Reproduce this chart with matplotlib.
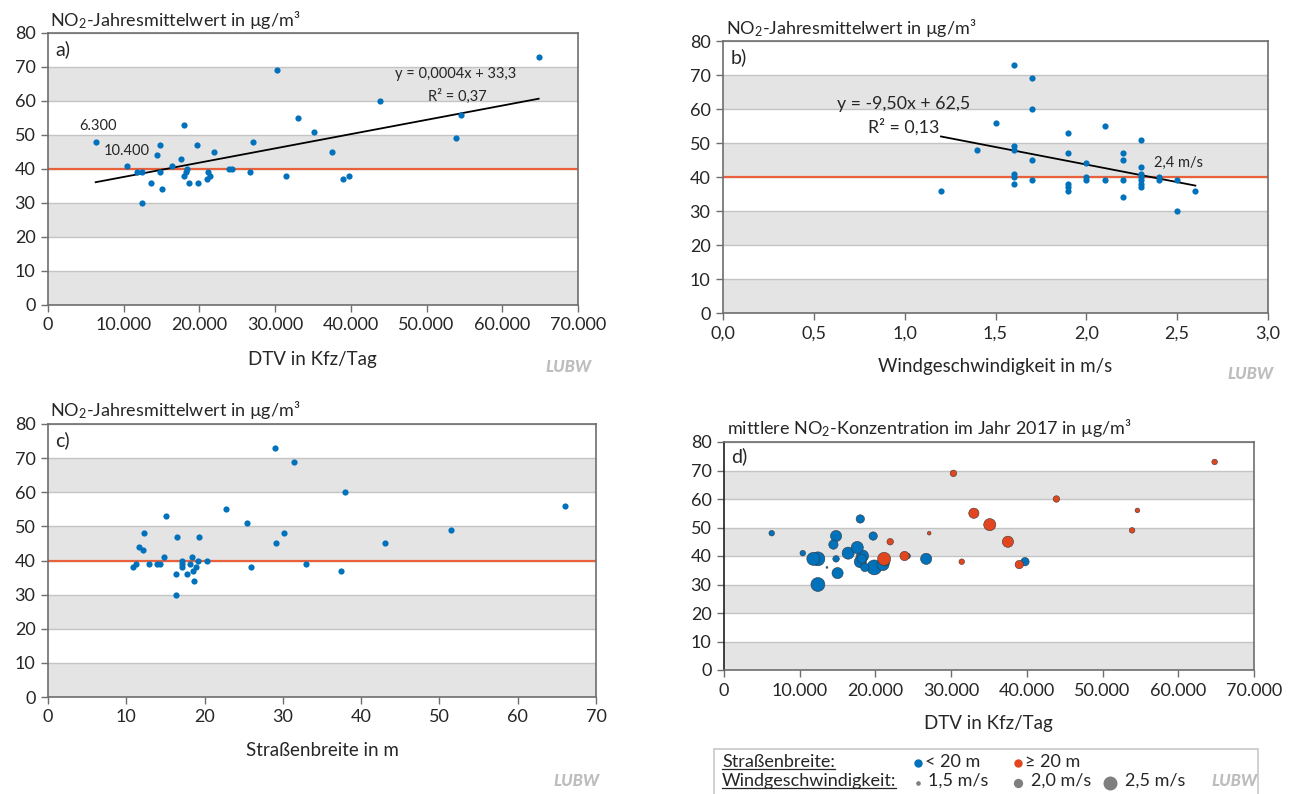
import numpy as np
import matplotlib
matplotlib.use("Agg")
import matplotlib.pyplot as plt
from matplotlib.ticker import FuncFormatter, MultipleLocator
from matplotlib.patches import Rectangle
from matplotlib.lines import Line2D

plt.rcParams["font.family"] = ["Lato", "DejaVu Sans"]
plt.rcParams["mathtext.fontset"] = "custom"
plt.rcParams["mathtext.rm"] = "Lato"
plt.rcParams["mathtext.it"] = "Lato:italic"

# a) and d): DTV (Kfz/Tag) vs. NO2-Jahresmittelwert
dtv = [6300, 10400, 11800, 12400, 12400, 13600, 14450, 14800, 14800, 15000,
       16400, 17600, 18000, 18300, 18200, 18000, 18600, 19700, 19850, 21150,
       21350, 21000, 21950, 23850, 24250, 26700, 27100, 30300, 31400, 33000,
       35100, 37500, 39000, 39750, 43900, 54600, 53900, 64800]
no2 = [48, 41, 39, 39, 30, 36, 44, 47, 39, 34,
       41, 43, 53, 40, 39, 38, 36, 47, 36, 39,
       38, 37, 45, 40, 40, 39, 48, 69, 38, 55,
       51, 45, 37, 38, 60, 56, 49, 73]
# d): wind speed (bubble size) and street width group (colour) per site
wind_d = [1.6, 1.6, 2.4, 2.5, 2.5, 1.2, 2.0, 2.2, 1.7, 2.2,
          2.3, 2.3, 1.9, 2.3, 2.0, 2.3, 1.9, 1.9, 2.6, 2.4,
          1.9, 2.3, 1.7, 2.0, 1.6, 2.2, 1.4, 1.7, 1.6, 2.1,
          2.3, 2.2, 1.9, 1.9, 1.7, 1.5, 1.6, 1.6]
breite_d = ["<20", "<20", "<20", "<20", "<20", "<20", "<20", "<20", "<20", "<20",
            "<20", "<20", "<20", "<20", "<20", "<20", "<20", "<20", "<20", ">=20",
            "<20", "<20", ">=20", ">=20", "<20", "<20", ">=20", ">=20", ">=20", ">=20",
            ">=20", ">=20", ">=20", "<20", ">=20", ">=20", ">=20", ">=20"]

# b): Windgeschwindigkeit (m/s) vs. NO2
wind_b = [1.2, 1.4, 1.5, 1.6, 1.6, 1.6, 1.6, 1.6, 1.6, 1.7, 1.7, 1.7, 1.7,
          1.9, 1.9, 1.9, 1.9, 1.9, 2.0, 2.0, 2.0, 2.1, 2.1, 2.2, 2.2, 2.2, 2.2,
          2.3, 2.3, 2.3, 2.3, 2.3, 2.3, 2.3, 2.4, 2.4, 2.5, 2.5, 2.6]
no2_b = [36, 48, 56, 73, 49, 48, 41, 40, 38, 69, 60, 45, 39,
         53, 47, 38, 37, 36, 44, 40, 39, 55, 39, 47, 45, 39, 34,
         51, 43, 41, 40, 39, 38, 37, 40, 39, 39, 30, 36]

# c): Straßenbreite (m) vs. NO2
breite_c = [10.8, 11.2, 11.6, 12.1, 12.3, 12.9, 13.9, 14.3, 14.8, 15.1,
            16.3, 16.3, 16.5, 17.1, 17.1, 17.1, 17.8, 18.1, 18.4, 18.5,
            18.7, 18.9, 19.1, 19.3, 20.3, 22.8, 25.4, 25.9, 29.0, 29.1,
            30.1, 31.4, 32.9, 37.4, 38.0, 43.0, 51.5, 66.1]
no2_c = [38, 39, 44, 43, 48, 39, 39, 39, 41, 53,
         36, 30, 47, 40, 39, 38, 36, 39, 41, 37,
         34, 38, 40, 47, 40, 55, 51, 38, 73, 45,
         48, 69, 39, 37, 60, 45, 49, 56]

GRENZWERT = 40

BLUE = "#0071bb"
RED = "#e2461e"
LIMIT_RED = "#e8603c"
BAND = "#e4e4e4"
GRID = "#c4c4c4"
SPINE = "#6e6e6e"
TXT = "#262626"
FS = 13       # titles, axis labels, legend
FS_TICK = 13
FS_NOTE = 10.5

W, H = 1293, 794
fig = plt.figure(figsize=(W / 100, H / 100), dpi=100)


def px_rect(left, top, right, bottom):
    return [left / W, 1 - bottom / H, (right - left) / W, (bottom - top) / H]


def ftext(x, y, s, **kw):
    kw.setdefault("fontsize", FS)
    kw.setdefault("color", TXT)
    kw.setdefault("va", "center")
    return fig.text(x / W, 1 - y / H, s, **kw)


def bubble_s(w):
    d_px = 9.3 * (np.asarray(w) - 1.0)
    return (d_px * 72 / 100) ** 2


def style_axes(ax):
    ax.set_ylim(0, 80)
    for lo in range(0, 80, 20):
        ax.axhspan(lo, lo + 10, color=BAND, lw=0, zorder=0)
    ax.yaxis.set_major_locator(MultipleLocator(10))
    ax.grid(axis="y", color=GRID, lw=1.0)
    ax.set_axisbelow(True)
    for s in ax.spines.values():
        s.set_color(SPINE)
        s.set_linewidth(1.2)
    ax.tick_params(direction="out", length=5, width=1, color=SPINE,
                   labelsize=FS_TICK, labelcolor=TXT, pad=4)


de_thousands = FuncFormatter(lambda v, _: f"{int(round(v)):,}".replace(",", "."))
de_decimal = FuncFormatter(lambda v, _: f"{v:.1f}".replace(".", ","))

# ---- a) ----
ax_a = fig.add_axes(px_rect(48, 33, 578, 305))
style_axes(ax_a)
ax_a.set_xlim(0, 70000)
ax_a.xaxis.set_major_locator(MultipleLocator(10000))
ax_a.xaxis.set_major_formatter(de_thousands)
ax_a.axhline(GRENZWERT, color=LIMIT_RED, lw=1.6, zorder=2)
ax_a.scatter(dtv, no2, s=20, color=BLUE, lw=0, zorder=4)
k, d = np.polyfit(dtv, no2, 1)
xs = np.array([min(dtv), max(dtv)])
ax_a.plot(xs, k * xs + d, color="black", lw=1.3, zorder=3)

# ---- b) ----
ax_b = fig.add_axes(px_rect(723, 41, 1268, 313))
style_axes(ax_b)
ax_b.set_xlim(0, 3.0)
ax_b.xaxis.set_major_locator(MultipleLocator(0.5))
ax_b.xaxis.set_major_formatter(de_decimal)
ax_b.axhline(GRENZWERT, color=LIMIT_RED, lw=1.6, zorder=2)
ax_b.scatter(wind_b, no2_b, s=20, color=BLUE, lw=0, zorder=4)
k, d = np.polyfit(wind_b, no2_b, 1)
xs = np.array([min(wind_b), max(wind_b)])
ax_b.plot(xs, k * xs + d, color="black", lw=1.3, zorder=3)

# ---- c) ----
ax_c = fig.add_axes(px_rect(48, 424, 596, 697))
style_axes(ax_c)
ax_c.set_xlim(0, 70)
ax_c.xaxis.set_major_locator(MultipleLocator(10))
ax_c.axhline(GRENZWERT, color=LIMIT_RED, lw=1.6, zorder=2)
ax_c.scatter(breite_c, no2_c, s=20, color=BLUE, lw=0, zorder=4)

# ---- d) ----
ax_d = fig.add_axes(px_rect(724, 442, 1254, 670))
style_axes(ax_d)
ax_d.spines["left"].set_color("#202020")
ax_d.set_xlim(0, 70000)
ax_d.xaxis.set_major_locator(MultipleLocator(10000))
ax_d.xaxis.set_major_formatter(de_thousands)
dtv_arr, no2_arr, wind_arr = np.array(dtv), np.array(no2), np.array(wind_d)
grp = np.array(breite_d)
for g, col in [("<20", BLUE), (">=20", RED)]:
    m = grp == g
    order = np.argsort(-wind_arr[m])
    ax_d.scatter(dtv_arr[m][order], no2_arr[m][order], s=bubble_s(wind_arr[m][order]),
                 color=col, edgecolor="#3a3a3a", lw=0.4, zorder=4)

# ---- texts ----
NO2_LABEL = "NO$_2$-Jahresmittelwert in µg/m³"
ftext(50, 20, NO2_LABEL)
ftext(726, 28, NO2_LABEL)
ftext(50, 410, NO2_LABEL)
ftext(727, 428, "mittlere NO$_2$-Konzentration im Jahr 2017 in µg/m³")

for x, y, s in [(55, 49, "a)"), (731, 57, "b)"), (55, 440, "c)"), (731, 456, "d)")]:
    ftext(x, y, s, fontsize=14)

ftext(312, 359, "DTV in Kfz/Tag", ha="center", fontsize=13.5)
ftext(995, 367, "Windgeschwindigkeit in m/s", ha="center", fontsize=13.5)
ftext(322, 751, "Straßenbreite in m", ha="center", fontsize=13.5)
ftext(988, 724, "DTV in Kfz/Tag", ha="center", fontsize=13.5)

ftext(98, 126, "6.300", ha="center", fontsize=FS_NOTE)
ftext(127, 151, "10.400", ha="center", fontsize=FS_NOTE)
ftext(456, 74, "y = 0,0004x + 33,3", ha="center", fontsize=FS_NOTE)
ftext(457, 96, "R² = 0,37", ha="center", fontsize=FS_NOTE)
ftext(904, 104, "y = -9,50x + 62,5", ha="center", fontsize=12.8)
ftext(904, 127, "R² = 0,13", ha="center", fontsize=12.8)
ftext(1178, 163, "2,4 m/s", ha="center", fontsize=FS_NOTE)

for x, y in [(568, 367), (1250, 374), (576, 781), (1235, 781)]:
    ftext(x, y, "LUBW", ha="center", fontsize=12, color="#bdbdbd",
          fontweight="black", style="italic")

# ---- legend box ----
fig.add_artist(Rectangle((714 / W, -0.05), (1258 - 714) / W, 1.05 - 749 / H,
                         transform=fig.transFigure, fill=False,
                         edgecolor="#c8c8c8", lw=1.2))
t1 = ftext(722, 762, "Straßenbreite:")
t2 = ftext(722, 781, "Windgeschwindigkeit:")
leg = fig.add_axes([0, 0, 1, 1], facecolor="none")
leg.set_xlim(0, W)
leg.set_ylim(H, 0)
leg.axis("off")
leg.scatter([918], [763], s=bubble_s(1.9), color=BLUE, lw=0)
leg.scatter([1018], [763], s=bubble_s(1.9), color=RED, lw=0)
ftext(925, 762, "< 20 m")
ftext(1025, 762, "≥ 20 m")
for x, w, lab in [(918, 1.5, "1,5 m/s"), (1018, 2.0, "2,0 m/s"), (1110, 2.5, "2,5 m/s")]:
    leg.scatter([x], [783], s=bubble_s(w), color="#7f7f7f", lw=0)
    ftext(x + 8 + 9.3 * (w - 1.0) / 2, 781, lab)

fig.canvas.draw()
r = fig.canvas.get_renderer()
for t in (t1, t2):
    bb = t.get_window_extent(r)
    yline = bb.y0 + 1
    fig.add_artist(Line2D([bb.x0 / W, bb.x1 / W], [yline / H, yline / H],
                          transform=fig.transFigure, color=TXT, lw=0.9))

fig.savefig("out.png", dpi=100)
